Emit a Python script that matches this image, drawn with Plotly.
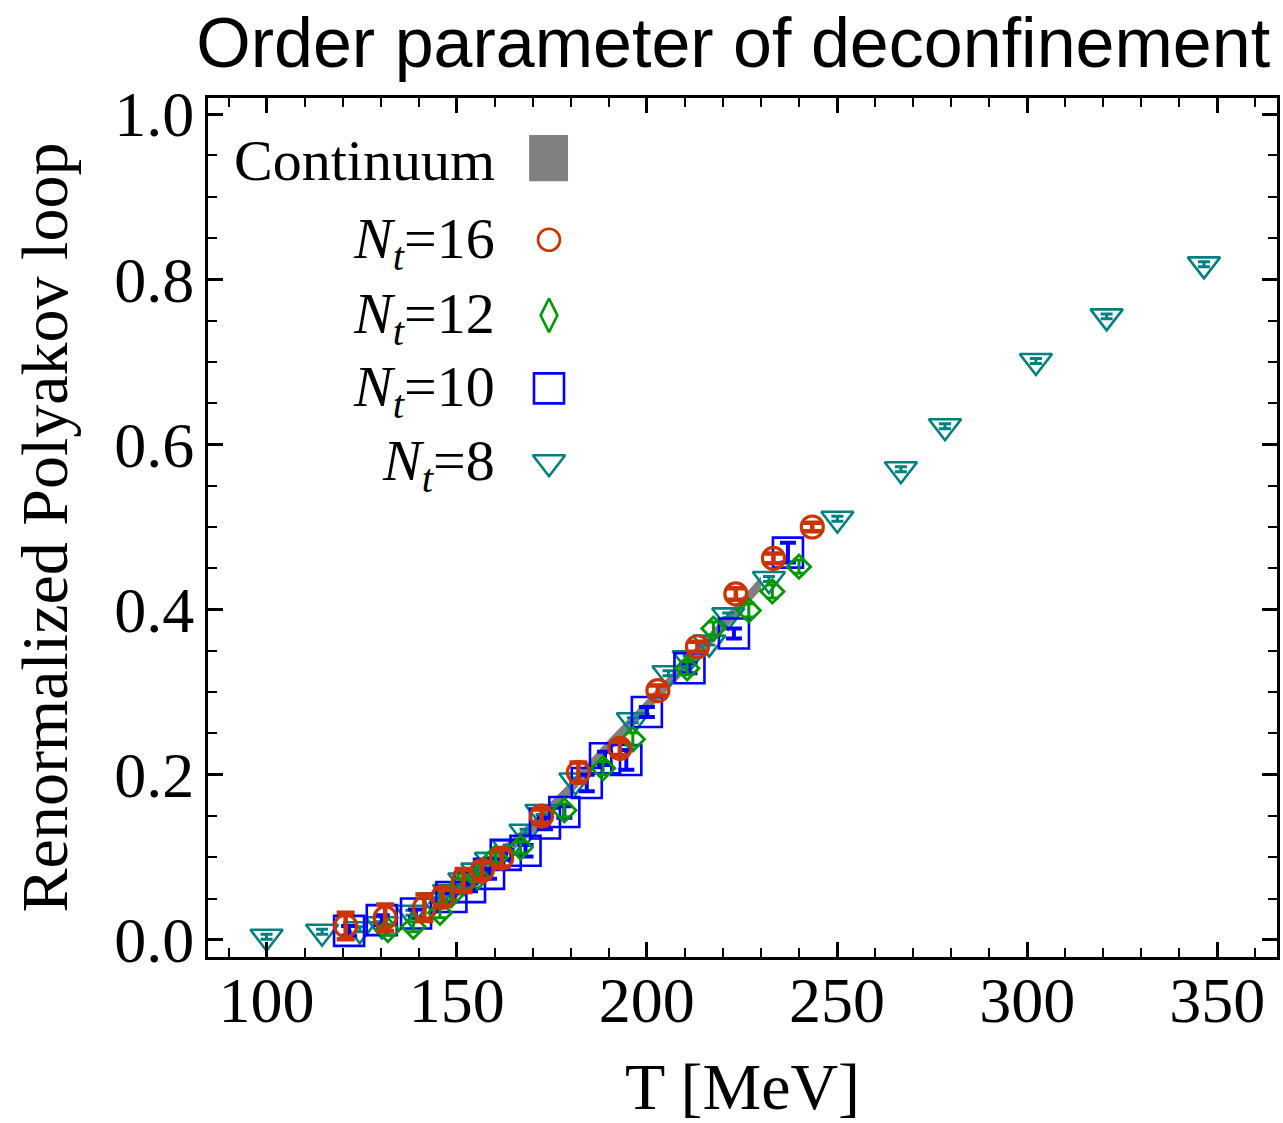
import plotly.graph_objects as go

# ---- data: renormalized Polyakov loop vs temperature ----
# N_t = 16
t16 = [120.8, 131.2, 141.5, 146.3, 151.8, 156.7, 161.8, 172.3, 182.0, 192.9, 202.9, 213.3, 223.4, 233.3, 243.5]
l16 = [0.017, 0.027, 0.039, 0.052, 0.072, 0.084, 0.099, 0.150, 0.203, 0.232, 0.302, 0.355, 0.419, 0.462, 0.500]
e16 = [0.016, 0.016, 0.016, 0.010, 0.014, 0.010, 0.010, 0.008, 0.012, 0.008, 0.006, 0.006, 0.007, 0.006, 0.005]

# N_t = 12
t12 = [131.9, 138.6, 145.6, 148.5, 151.4, 155.5, 160.2, 166.8, 178.3, 188.5, 196.3, 210.6, 217.5, 226.8, 233.0, 240.0]
l12 = [0.012, 0.016, 0.033, 0.054, 0.068, 0.076, 0.100, 0.112, 0.157, 0.208, 0.243, 0.329, 0.377, 0.399, 0.422, 0.452]
e12 = [0.006, 0.006, 0.006, 0.006, 0.006, 0.006, 0.007, 0.007, 0.008, 0.008, 0.008, 0.008, 0.008, 0.008, 0.008, 0.008]

# N_t = 10
t10 = [121.7, 130.3, 139.3, 148.6, 153.5, 158.5, 162.9, 168.1, 173.2, 178.3, 184.2, 189.0, 194.6, 200.0, 211.2, 222.9, 237.1]
l10 = [0.011, 0.024, 0.032, 0.052, 0.064, 0.080, 0.103, 0.108, 0.141, 0.155, 0.190, 0.220, 0.218, 0.276, 0.329, 0.371, 0.469]
e10 = [0.006, 0.006, 0.005, 0.005, 0.005, 0.006, 0.006, 0.007, 0.007, 0.007, 0.010, 0.008, 0.012, 0.006, 0.006, 0.006, 0.012]

# N_t = 8
t8 = [100.0, 114.6, 124.5, 130.3, 138.1, 144.1, 148.0, 152.0, 155.4, 159.0, 163.7, 168.1, 172.3, 181.2,
      196.3, 205.7, 211.0, 216.4, 221.4, 232.1, 250.1, 266.8, 278.4, 302.3, 320.9, 346.5]
l8 = [0.004, 0.010, 0.013, 0.019, 0.033, 0.048, 0.058, 0.072, 0.084, 0.097, 0.112, 0.131, 0.155, 0.193,
      0.266, 0.323, 0.341, 0.360, 0.393, 0.437, 0.510, 0.570, 0.622, 0.701, 0.755, 0.818]
e8 = [0.003] * len(t8)

# continuum extrapolation band
t_cont = [145, 150, 160, 170, 180, 190, 200, 210, 220, 230]
l_cont_lo = [0.044, 0.056, 0.089, 0.129, 0.176, 0.227, 0.275, 0.324, 0.373, 0.424]
l_cont_hi = [0.060, 0.072, 0.105, 0.145, 0.192, 0.243, 0.291, 0.340, 0.389, 0.440]

x_ticks = [100, 150, 200, 250, 300, 350]
y_ticks = [0.0, 0.2, 0.4, 0.6, 0.8, 1.0]

legend_labels = ["Continuum", "<i>N</i><sub><i>t</i></sub>=16", "<i>N</i><sub><i>t</i></sub>=12",
                 "<i>N</i><sub><i>t</i></sub>=10", "<i>N</i><sub><i>t</i></sub>=8"]

RED = "#cc3300"
GREEN = "#009900"
BLUE = "#0000ff"
TEAL = "#008080"
GRAY = "#808080"
SERIF = "Liberation Serif, Times New Roman, serif"
SANS = "Liberation Sans, Arial, sans-serif"

fig = go.Figure()

# continuum band
fig.add_trace(go.Scatter(
    x=t_cont + t_cont[::-1], y=l_cont_hi + l_cont_lo[::-1],
    fill="toself", fillcolor=GRAY, line=dict(width=0, color=GRAY),
    mode="lines", hoverinfo="skip", showlegend=False))


def series(t, l, e, symbol, color, size, lw, ethick, ewidth):
    return go.Scatter(
        x=t, y=l, mode="markers", showlegend=False,
        marker=dict(symbol=symbol, size=size, color=color,
                    line=dict(color=color, width=lw)),
        error_y=dict(type="data", array=e, visible=True, color=color,
                     thickness=ethick, width=ewidth))


fig.add_trace(series(t8, l8, e8, "triangle-down-open", TEAL, 28, 2.6, 3, 6))
fig.add_trace(series(t10, l10, e10, "square-open", BLUE, 30, 2.6, 4, 8))
fig.add_trace(series(t12, l12, e12, "diamond-open", GREEN, 18, 2.8, 3, 6))
fig.add_trace(series(t16, l16, e16, "circle-open", RED, 22, 3.2, 4.5, 9))

# legend keys on an overlay axis spanning the plot area
key_x = 0.319
key_y = [0.835, 0.747, 0.662, 0.576]
key_sym = ["circle-open", "diamond-tall-open", "square-open", "triangle-down-open"]
key_col = [RED, GREEN, BLUE, TEAL]
key_size = [22, 24, 30, 28]
for yy, s, c, sz in zip(key_y, key_sym, key_col, key_size):
    fig.add_trace(go.Scatter(
        x=[key_x], y=[yy], xaxis="x2", yaxis="y2", mode="markers", showlegend=False,
        marker=dict(symbol=s, size=sz, color=c, line=dict(color=c, width=2.6)),
        hoverinfo="skip"))

fig.add_shape(type="rect", xref="paper", yref="paper",
              x0=0.3004, x1=0.3368, y0=0.903, y1=0.957,
              fillcolor=GRAY, line=dict(width=0))

text_y = [0.927, 0.832, 0.744, 0.659, 0.573]
for lab, yy in zip(legend_labels, text_y):
    fig.add_annotation(text=lab, xref="paper", yref="paper", x=0.270, y=yy,
                       xanchor="right", yanchor="middle", showarrow=False,
                       font=dict(family=SERIF, size=58, color="black"))

axis_common = dict(
    showline=True, linecolor="black", linewidth=3, mirror="allticks",
    ticks="inside", ticklen=15, tickwidth=2.5, tickcolor="black",
    showgrid=False, zeroline=False,
    tickfont=dict(family=SERIF, size=64, color="black"),
)

fig.update_layout(
    width=1283, height=1123,
    margin=dict(l=208, r=3, t=98, b=166),
    paper_bgcolor="white", plot_bgcolor="white",
    title=dict(text="Order parameter of deconfinement",
               font=dict(family=SANS, size=70, color="black"),
               xref="container", yref="container",
               x=0.99, xanchor="right", y=0.962, yanchor="middle"),
    xaxis=dict(range=[84.6, 365.7], tickvals=x_ticks,
               minor=dict(ticks="inside", dtick=10, tick0=100, ticklen=9,
                          tickwidth=2, tickcolor="black"),
               title=dict(text="T [MeV]", font=dict(family=SERIF, size=66, color="black"),
                          standoff=32),
               ticklabelstandoff=-15,
               **axis_common),
    yaxis=dict(range=[-0.0206, 1.0194], tickvals=y_ticks, tickformat=".1f",
               minor=dict(ticks="inside", dtick=0.05, tick0=0, ticklen=9,
                          tickwidth=2, tickcolor="black"),
               title=dict(text="Renormalized Polyakov loop",
                          font=dict(family=SERIF, size=66, color="black"),
                          standoff=26),
               ticklabelstandoff=-2,
               **axis_common),
    xaxis2=dict(overlaying="x", range=[0, 1], visible=False, fixedrange=True),
    yaxis2=dict(overlaying="y", range=[0, 1], visible=False, fixedrange=True),
)

fig.write_html("out.html")
